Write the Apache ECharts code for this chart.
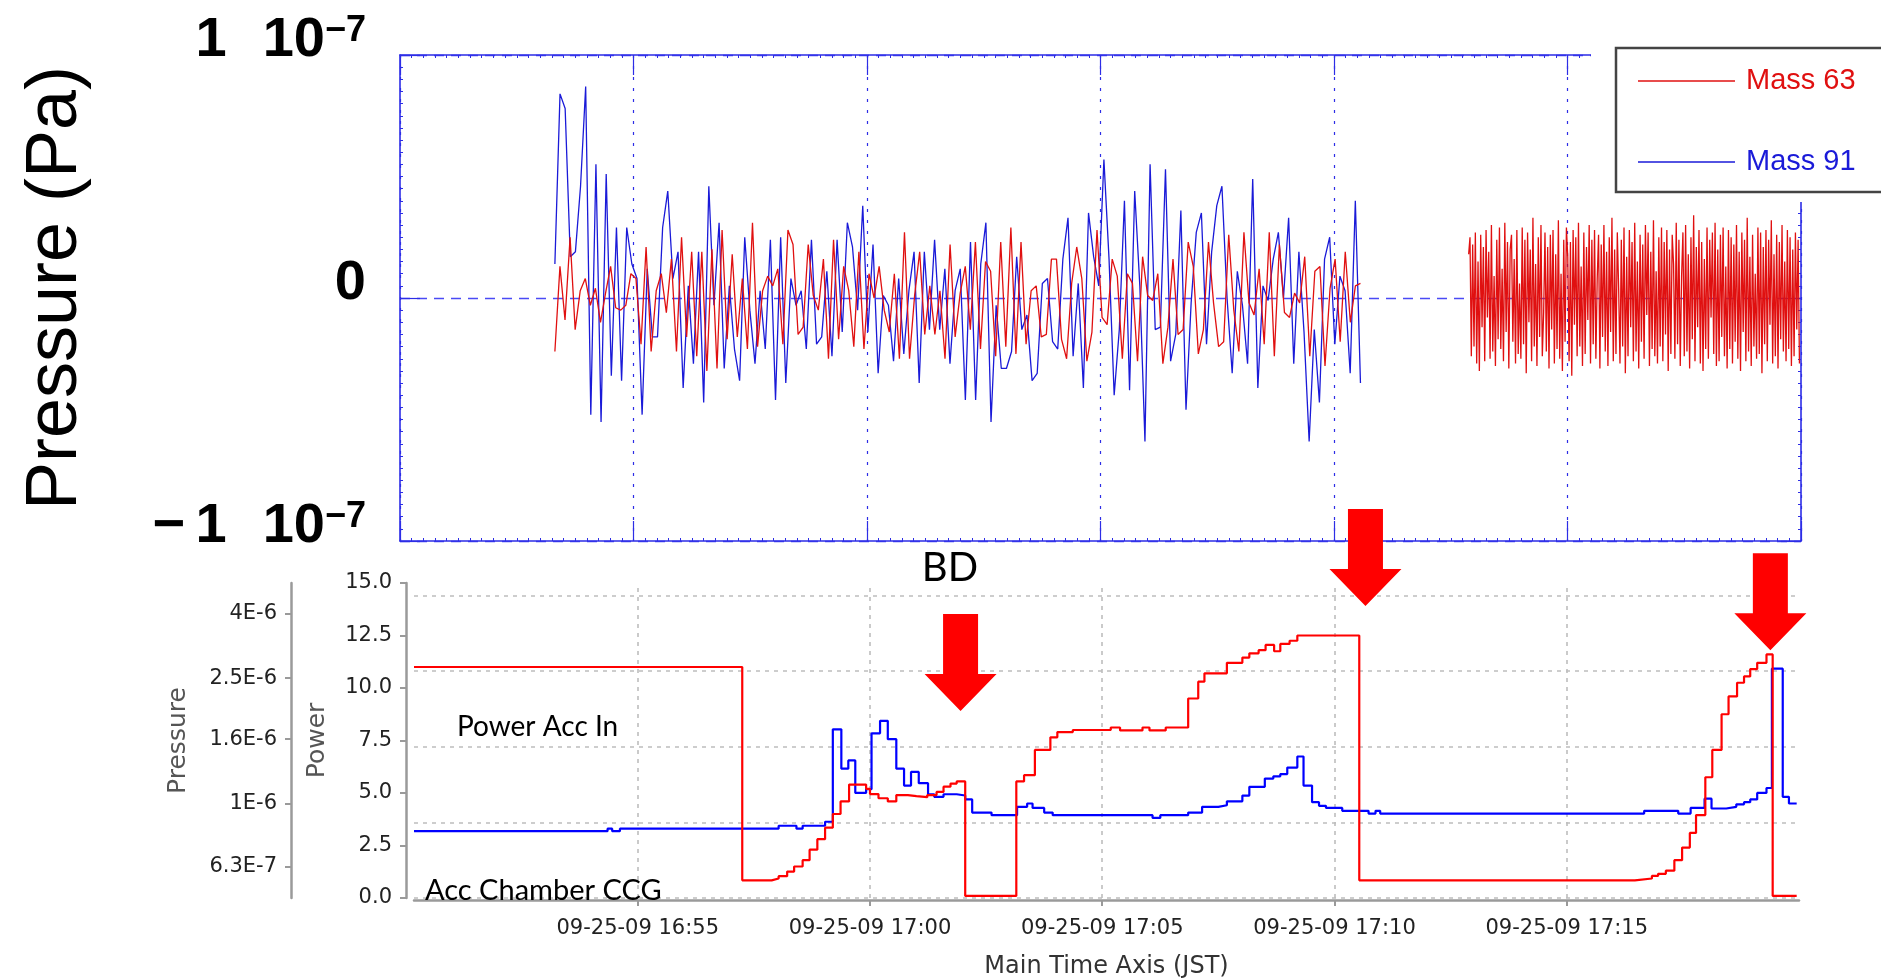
<!DOCTYPE html>
<html>
<head>
<meta charset="utf-8">
<script src="https://cdn.jsdelivr.net/npm/echarts@6/dist/echarts.min.js"></script>
<style>
  html, body { margin: 0; padding: 0; background: #ffffff; }
  #chart { width: 1881px; height: 980px; }
</style>
</head>
<body>
<div id="chart"></div>
<script>
// ---------------- residual gas (upper panel) ----------------
// Regularly sampled partial pressures, values in units of 1e-9 Pa.
const MASS_NAMES = ['Mass 63', 'Mass 91'];
const RUN1_START = '16:53:19';
const RUN1_END = '17:10:34';
const RUN2_START = '17:12:53';
const RUN2_END = '17:19:58';

const MASS_63_RUN1 = [
  -22, 13, -9, 25, -13, 3, 8, -3, 4, -10, 2, 13, -4, -5, -3, 10, 8, -19, 21, -22,
  3, 10, -6, 16, -22, 25, -16, 19, -24, 19, -30, 20, -29, 28, -17, 18, -16, 8, -21, 31,
  -20, 3, 9, 5, 12, -19, 28, 22, -15, -12, 22, 1, -5, 16, -25, 24, -17, 13, 3, -20,
  19, -21, 10, 0, 13,
  -5, -14, 10, -25, 27, -25, 1, 19, -15, 5, -15, 3, -25, 22, -16, 2, 13, -13, 23, -21,
  15, 11, -24, 23, -20, 29, -23, 23, -19, 3, 5, -16, -15, 16, 16, -17, -25, 6, 21, 8,
  -26, -14, 28, -8, -11, 16, 9, -25, 10, 6, -26, 17, 1, -1, 10, -27, -12, 16, -15, -13,
  23, 13, -23, -13, 23, -2, -20, -18, 26, -5, -22, 27, -2, -7, 12, -19, 27, -24, 22, -6,
  -8, 2, -2, 17, -24, 11, 13, -28, 4, 16, -18, 19, -10, 5, 6
];

const MASS_91_RUN1 = [
  14, 84, 78, 17, 19, 46, 87, -48, 55, -51, 51, -32, 29, -34, 29, 14, 8, -48, 12, -16,
  -16, 29, 44, 8, 19, -37, 5, -27, 19, -43, 46, -3, 31, -29, 5, -21, -34, 25, -5, -27,
  3, -21, 24, -42, 25, -35, 8, -3, 3, -21, 24, -19, -16, 11, -24, 24, -14, 31, 21, -5,
  38, -14, 22,
  -31, 1, -3, -26, 8, -23, 3, 19, -35, 19, -13, 24, -13, 12, -27, 3, 12, -42, 23, -42,
  14, 31, -51, -3, -29, -29, -22, 17, -13, -7, -34, -31, 6, 8, -18, -21, 16, 33, -24, 6,
  -37, 35, 17, 5, 57, 16, -40, -13, 40, -38, 44, 5, -59, 55, -13, -12, 53, -26, -15, 36,
  -46, -2, 27, 35, -19, 19, 38, 46, 0, -31, 11, -3, -27, 49, -37, 5, -1, 16, 27, 0,
  33, -27, 19, -14, -59, -13, -43, 16, 25, -19, 9, 3, -31, 40, -35
];

const MASS_63_RUN2 = [
  18, 25, -24, 22, -20, 27, -27, 15, -30, 26, -12, 21, -26, 28, -8, 19, -25, 30, -22, 9,
  -28, 24, -17, 29, -21, 12, -26, 31, -14, 23, -29, 20, 26, -18, 16, -27, 28, -23, 6, -25,
  29, -19, 24, -31, 27, -10, 20, -26, 33, -20, 14, -28, 25, -16, 30, -24, -6, 27, -22, 21,
  -29, 26, -13, 28, -27, 18, -21, 32, -25, 10, -30, 24, -18, 29, 17, -26, 23, -32, 28, -11,
  25, -24, 31, -20, 13, -28, 27, -23, 21, -9, 30, -27, 24, -19, 28, -25, 8, 26, -29, 22,
  -16, 30, -22, 19, -28, 25, -14, 33, -26, 20, -23, 27, 4, -27, 24, -20, 29, -31, 17, -24,
  28, -12, 23, -26, 31, -22, 15, -29, 26, -18, 22, -25, 30, -7, 27, -28, 19, -21, 32, -24,
  11, -27, 25, -20, 29, -26, 23, -15, 28, -30, 20, -23, 26, 14, -25, 31, -19, 24, -28, 9,
  27, -24, 30, -22, 18, -29, 25, -17, 34, -26, 21, -12, 28, -27, 23, -30, 16, -21, 29, -25,
  24, -8, 27, -23, 31, -28, 20, -26, 26, -16, 29, -24, 13, -29, 28, -21, 25, -27, 22, -18,
  30, -25, 19, -30, 27, -14, 24, -26, 33, -22, 17, -28, 26, -20, 10, -25, 29, -23, 27, -31,
  21, -19, 28, -26, 24, -11, 32, -27, 18, -24, 26, -29, 23, -17, 30, -22, 15, -26, 28, -21,
  25, -28, 20, -24, 27, -13, 24, -27
];

// tick labels of the upper panel, written as  sign coef x base^exponent
const TOP_TICK_VALUES = [-100, 0, 100];
const TOP_TICK_SIGN = ['\u2212', '', ''];
const TOP_TICK_COEF = ['1', '0', '1'];
const TOP_TICK_BASE = ['10', '', '10'];
const TOP_TICK_EXPONENT = ['\u22127', '', '\u22127'];
const TOP_AXIS_TITLE = 'Pressure (Pa)';

// ---------------- accelerator log (lower panel) ----------------
const DATE_LABEL = '09-25-09';
const LOG_START = '16:50:11';
const LOG_END = '17:20:00';
const TIME_TICKS = ['16:55', '17:00', '17:05', '17:10', '17:15'];

// Power Acc In: value changes (time, new value)
const POWER_TIMES = [
  '16:50:11', '16:57:15', '16:57:53', '16:58:02', '16:58:13', '16:58:22', '16:58:33', '16:58:42',
  '16:58:52', '16:59:02', '16:59:12', '16:59:22', '16:59:33', '16:59:55', '17:00:00', '17:00:11',
  '17:00:23', '17:00:34', '17:00:49', '17:01:00', '17:01:14', '17:01:26', '17:01:35', '17:01:44',
  '17:01:52', '17:02:03', '17:03:09', '17:03:19', '17:03:33', '17:03:53', '17:04:02', '17:04:22',
  '17:05:11', '17:05:23', '17:05:52', '17:06:01', '17:06:22', '17:06:51', '17:07:04', '17:07:12',
  '17:07:41', '17:08:01', '17:08:10', '17:08:22', '17:08:31', '17:08:42', '17:08:50', '17:09:02',
  '17:09:12', '17:10:32', '17:16:28', '17:16:50', '17:16:58', '17:17:08', '17:17:19', '17:17:29',
  '17:17:39', '17:17:47', '17:17:59', '17:18:08', '17:18:20', '17:18:29', '17:18:40', '17:18:49',
  '17:18:57', '17:19:06', '17:19:18', '17:19:26', '17:19:57'
];
const POWER_VALUES = [
  11.0, 0.84, 0.93, 1.04, 1.26, 1.5, 1.8, 2.3,
  2.8, 3.35, 4.0, 4.6, 5.4, 5.2, 4.95, 4.75,
  4.6, 4.9, 4.85, 4.8, 4.9, 5.05, 5.3, 5.45,
  5.55, 0.1, 5.55, 5.85, 7.05, 7.65, 7.9, 8.0,
  8.12, 7.98, 8.12, 7.98, 8.12, 9.5, 10.3, 10.7,
  11.2, 11.45, 11.65, 11.8, 12.05, 11.75, 12.1, 12.25,
  12.5, 0.84, 0.93, 1.05, 1.15, 1.3, 1.8, 2.4,
  3.1, 3.95, 5.75, 7.05, 8.75, 9.6, 10.25, 10.55,
  10.9, 11.2, 11.6, 0.1, 0.1
];

// Acc Chamber CCG: pressure changes in Pa
const CCG_TIMES = [
  '16:50:11', '16:54:21', '16:54:27', '16:54:37', '16:58:02', '16:58:25', '16:58:33', '16:59:02',
  '16:59:12', '16:59:23', '16:59:32', '16:59:41', '16:59:55', '17:00:02', '17:00:13', '17:00:23',
  '17:00:34', '17:00:44', '17:00:53', '17:01:03', '17:01:15', '17:01:23', '17:01:35', '17:01:52',
  '17:02:03', '17:02:12', '17:02:37', '17:03:10', '17:03:23', '17:03:30', '17:03:45', '17:03:56',
  '17:06:05', '17:06:15', '17:06:51', '17:07:09', '17:07:30', '17:07:41', '17:08:01', '17:08:10',
  '17:08:30', '17:08:41', '17:08:50', '17:08:59', '17:09:12', '17:09:20', '17:09:31', '17:09:40',
  '17:09:49', '17:10:10', '17:10:44', '17:10:53', '17:10:59', '17:16:40', '17:17:24', '17:17:40',
  '17:17:58', '17:18:07', '17:18:26', '17:18:39', '17:18:49', '17:18:57', '17:19:06', '17:19:18',
  '17:19:25', '17:19:39', '17:19:47', '17:19:57'
];
const CCG_PRESSURE = [
  8.17e-7, 8.32e-7, 8.17e-7, 8.32e-7, 8.5e-7, 8.32e-7, 8.5e-7, 8.75e-7,
  1.72e-6, 1.29e-6, 1.37e-6, 1.08e-6, 1.11e-6, 1.67e-6, 1.83e-6, 1.6e-6,
  1.29e-6, 1.14e-6, 1.26e-6, 1.16e-6, 1.07e-6, 1.05e-6, 1.07e-6, 1.06e-6,
  1.03e-6, 9.36e-7, 9.18e-7, 9.76e-7, 1.0e-6, 9.68e-7, 9.36e-7, 9.18e-7,
  9.0e-7, 9.18e-7, 9.36e-7, 9.76e-7, 9.87e-7, 1.016e-6, 1.06e-6, 1.13e-6,
  1.2e-6, 1.22e-6, 1.24e-6, 1.3e-6, 1.41e-6, 1.14e-6, 1.01e-6, 9.83e-7,
  9.68e-7, 9.48e-7, 9.29e-7, 9.48e-7, 9.29e-7, 9.48e-7, 9.29e-7, 9.68e-7,
  1.036e-6, 9.64e-7, 9.76e-7, 9.94e-7, 1.01e-6, 1.03e-6, 1.08e-6, 1.12e-6,
  2.68e-6, 1.05e-6, 1.0e-6, 1.0e-6
];

const PRESSURE_TICK_VALUES = [6.3e-7, 1e-6, 1.6e-6, 2.5e-6, 4e-6];
const PRESSURE_TICK_LABELS = ['6.3E-7', '1E-6', '1.6E-6', '2.5E-6', '4E-6'];
const GRID_LEVELS = [0, 3.6, 7.2, 10.8, 14.4];

// breakdown markers: where each arrow points (time, power level)
const ARROW_TIMES = ['17:01:57', '17:10:40', '17:19:23'];
const ARROW_POWER = [8.9, 13.9, 11.8];

// ---------------- helpers ----------------
const BASE_MIN = 16 * 60 + 50; // both panels count minutes from 16:50
function minutesOf(hms) {
  const p = hms.split(':').map(Number);
  return p[0] * 60 + p[1] + (p[2] || 0) / 60 - BASE_MIN;
}
function sampled(values, start, end) {
  const t0 = minutesOf(start), t1 = minutesOf(end);
  const dt = (t1 - t0) / (values.length - 1);
  return values.map((v, i) => [t0 + i * dt, v]);
}

const TOP_BLUE = '#1a1ad8';
const TOP_RED = '#e01010';
const FRAME_BLUE = '#2d2de6';
const SANS = 'Liberation Sans';
const DIALOG = 'DejaVu Sans';
// plain horizontal stroke for legend keys (the extra moves keep the box full height)
const LEGEND_LINE = 'path://M0,0 M0,30 M0,14.2 L97,14.2 L97,15.8 L0,15.8 Z';

const pressureTicks = PRESSURE_TICK_VALUES.map(v => Math.log10(v));
const timeTicks = TIME_TICKS.map(minutesOf);

const frameAxis = {
  axisLine: { show: true, onZero: false, lineStyle: { color: FRAME_BLUE, width: 1.6 } },
  axisTick: { show: true, inside: true, length: 20, lineStyle: { color: FRAME_BLUE, width: 1.2 } },
  minorTick: { show: true, splitNumber: 20, length: 3, lineStyle: { color: FRAME_BLUE, width: 1 } },
  axisLabel: { show: false },
  splitLine: { show: false }
};

function topTickLabel(v) {
  const i = TOP_TICK_VALUES.indexOf(v);
  if (i < 0) return '';
  let s = '';
  if (TOP_TICK_SIGN[i]) s += '{m|' + TOP_TICK_SIGN[i] + '}{g1| }';
  s += '{m|' + TOP_TICK_COEF[i] + '}';
  if (TOP_TICK_BASE[i]) s += '{g2| }{m|' + TOP_TICK_BASE[i] + '}';
  if (TOP_TICK_EXPONENT[i]) s += '{s|' + TOP_TICK_EXPONENT[i] + '}';
  return s;
}

const chart = echarts.init(document.getElementById('chart'), null, { renderer: 'canvas' });

const option = {
  animation: false,
  backgroundColor: '#ffffff',
  grid: [
    { left: 400, top: 55, width: 1401, height: 486 },
    { left: 414, top: 583, width: 1385, height: 317 }
  ],
  legend: {
    data: [
      { name: MASS_NAMES[0], icon: LEGEND_LINE, textStyle: { color: TOP_RED } },
      { name: MASS_NAMES[1], icon: LEGEND_LINE, textStyle: { color: TOP_BLUE } }
    ],
    orient: 'vertical',
    left: 1616,
    top: 48,
    padding: [18, 60, 15, 22],
    itemGap: 51,
    itemWidth: 97,
    itemHeight: 30,
    borderColor: '#444444',
    borderWidth: 2.5,
    borderRadius: 0,
    backgroundColor: '#ffffff',
    z: 100,
    textStyle: { fontFamily: SANS, fontSize: 29, padding: [0, 0, 0, 6] }
  },
  xAxis: [
    Object.assign({}, frameAxis, {
      gridIndex: 0, type: 'value', min: 0, max: 30, interval: 5, position: 'bottom',
      splitLine: { show: true, lineStyle: { color: FRAME_BLUE, width: 1.2, type: [3, 8] } }
    }),
    Object.assign({}, frameAxis, {
      gridIndex: 0, type: 'value', min: 0, max: 30, interval: 5, position: 'top'
    }),
    {
      gridIndex: 1, type: 'value', min: minutesOf(LOG_START), max: minutesOf(LOG_END),
      position: 'bottom', offset: 2,
      axisLine: { show: true, onZero: false, lineStyle: { color: '#9a9a9a', width: 2.5 } },
      axisTick: { show: true, customValues: timeTicks, length: 6, lineStyle: { color: '#9a9a9a', width: 2 } },
      axisLabel: {
        show: true, customValues: timeTicks, margin: 18,
        fontFamily: DIALOG, fontSize: 21, color: '#222222',
        formatter: v => {
          const i = timeTicks.findIndex(t => Math.abs(t - v) < 1e-6);
          return i < 0 ? '' : DATE_LABEL + ' ' + TIME_TICKS[i];
        }
      },
      splitLine: { show: false },
      name: 'Main Time Axis (JST)', nameLocation: 'middle', nameGap: 55,
      nameTextStyle: { fontFamily: DIALOG, fontSize: 24, color: '#333333' }
    }
  ],
  yAxis: [
    Object.assign({}, frameAxis, {
      gridIndex: 0, type: 'value', min: -100, max: 100, interval: 100, position: 'left',
      axisLabel: {
        show: true, margin: 34, padding: [0, 0, 28, 0],
        formatter: topTickLabel,
        rich: {
          m: { fontFamily: SANS, fontWeight: 'bold', fontSize: 56, lineHeight: 56, color: '#000000' },
          g1: { fontSize: 56, lineHeight: 56, width: 10 },
          g2: { fontSize: 56, lineHeight: 56, width: 36 },
          s: { fontFamily: SANS, fontWeight: 'bold', fontSize: 36, lineHeight: 22, verticalAlign: 'top', color: '#000000' }
        }
      },
      splitLine: { show: true, lineStyle: { color: '#4a4af5', width: 1.3, type: [10, 7] } }
    }),
    Object.assign({}, frameAxis, {
      gridIndex: 0, type: 'value', min: -100, max: 100, interval: 100, position: 'right'
    }),
    {
      gridIndex: 1, type: 'value', min: 0, max: 15, interval: 2.5, position: 'left', offset: 8,
      axisLine: { show: true, onZero: false, lineStyle: { color: '#9a9a9a', width: 2.5 } },
      axisTick: { show: true, length: 6, lineStyle: { color: '#9a9a9a', width: 2 } },
      axisLabel: {
        show: true, margin: 14, fontFamily: DIALOG, fontSize: 21, color: '#222222',
        formatter: v => v.toFixed(1)
      },
      splitLine: { show: false },
      name: 'Power', nameLocation: 'middle', nameGap: 76, nameRotate: 90,
      nameTextStyle: { fontFamily: DIALOG, fontSize: 25, color: '#555555' }
    },
    {
      gridIndex: 1, type: 'value', min: -6.3, max: -5.3, position: 'left', offset: 123,
      axisLine: { show: true, onZero: false, lineStyle: { color: '#9a9a9a', width: 2.5 } },
      axisTick: { show: true, customValues: pressureTicks, length: 6, lineStyle: { color: '#9a9a9a', width: 2 } },
      axisLabel: {
        show: true, customValues: pressureTicks, margin: 14,
        fontFamily: DIALOG, fontSize: 21, color: '#222222',
        formatter: v => {
          const i = pressureTicks.findIndex(t => Math.abs(t - v) < 1e-3);
          return i < 0 ? '' : PRESSURE_TICK_LABELS[i];
        }
      },
      splitLine: { show: false },
      name: 'Pressure', nameLocation: 'middle', nameGap: 100, nameRotate: 90,
      nameTextStyle: { fontFamily: DIALOG, fontSize: 25, color: '#555555' }
    }
  ],
  series: [
    {
      name: MASS_NAMES[1], type: 'line', xAxisIndex: 0, yAxisIndex: 0,
      data: sampled(MASS_91_RUN1, RUN1_START, RUN1_END),
      symbol: 'none', color: TOP_BLUE, lineStyle: { width: 1.3, color: TOP_BLUE }
    },
    {
      name: MASS_NAMES[0], type: 'line', xAxisIndex: 0, yAxisIndex: 0,
      data: sampled(MASS_63_RUN1, RUN1_START, RUN1_END),
      symbol: 'none', color: TOP_RED, lineStyle: { width: 1.3, color: TOP_RED }
    },
    {
      name: MASS_NAMES[0], type: 'line', xAxisIndex: 0, yAxisIndex: 0,
      data: sampled(MASS_63_RUN2, RUN2_START, RUN2_END),
      symbol: 'none', color: TOP_RED, lineStyle: { width: 1.3, color: TOP_RED }
    },
    {
      name: 'Acc Chamber CCG', type: 'line', xAxisIndex: 2, yAxisIndex: 3, step: 'end',
      data: CCG_TIMES.map((t, i) => [minutesOf(t), Math.log10(CCG_PRESSURE[i])]),
      symbol: 'none', color: '#0000ff', lineStyle: { width: 2.2, color: '#0000ff' }
    },
    {
      name: 'Power Acc In', type: 'line', xAxisIndex: 2, yAxisIndex: 2, step: 'end',
      data: POWER_TIMES.map((t, i) => [minutesOf(t), POWER_VALUES[i]]),
      symbol: 'none', color: '#ff0000', lineStyle: { width: 2.2, color: '#ff0000' },
      markLine: {
        silent: true, symbol: 'none', z: 1, animation: false,
        label: { show: false },
        lineStyle: { color: '#bdbdbd', width: 1.6, type: [4, 5] },
        data: GRID_LEVELS.map(v => ({ yAxis: v })).concat(timeTicks.map(t => ({ xAxis: t })))
      }
    }
  ]
};

chart.setOption(option);

// breakdown arrows, placed at their data positions
function arrowShape(tip) {
  const [x, y] = tip;
  return [
    [x, y], [x - 36, y - 37], [x - 17.5, y - 37], [x - 17.5, y - 97],
    [x + 17.5, y - 97], [x + 17.5, y - 37], [x + 36, y - 37]
  ];
}
const arrows = ARROW_TIMES.map((t, i) => {
  const tip = chart.convertToPixel({ xAxisIndex: 2, yAxisIndex: 2 }, [minutesOf(t), ARROW_POWER[i]]);
  return {
    type: 'polygon', z: 120, silent: true,
    shape: { points: arrowShape(tip) },
    style: { fill: '#ff0000', stroke: null }
  };
});

chart.setOption({
  graphic: [
    // white margin around the legend box
    { type: 'rect', z: 90, silent: true, shape: { x: 1591, y: 38, width: 300, height: 164 }, style: { fill: '#ffffff' } },
    { type: 'text', z: 110, silent: true, x: 56, y: 288, rotation: Math.PI / 2,
      style: { text: TOP_AXIS_TITLE, x: 0, y: 0, font: '72px "Liberation Sans"', fill: '#000000', textAlign: 'center', textVerticalAlign: 'middle' } },
    { type: 'text', z: 110, silent: true, style: { text: 'BD', x: 950, y: 568, font: '40px Lato', fill: '#000000', textAlign: 'center', textVerticalAlign: 'middle' } },
    { type: 'text', z: 110, silent: true, style: { text: 'Power Acc In', x: 457, y: 727, font: '28px Lato', fill: '#000000', textAlign: 'left', textVerticalAlign: 'middle' } },
    { type: 'text', z: 110, silent: true, style: { text: 'Acc Chamber CCG', x: 425, y: 891, font: '29px Lato', fill: '#000000', textAlign: 'left', textVerticalAlign: 'middle' } }
  ].concat(arrows)
});
</script>
</body>
</html>
